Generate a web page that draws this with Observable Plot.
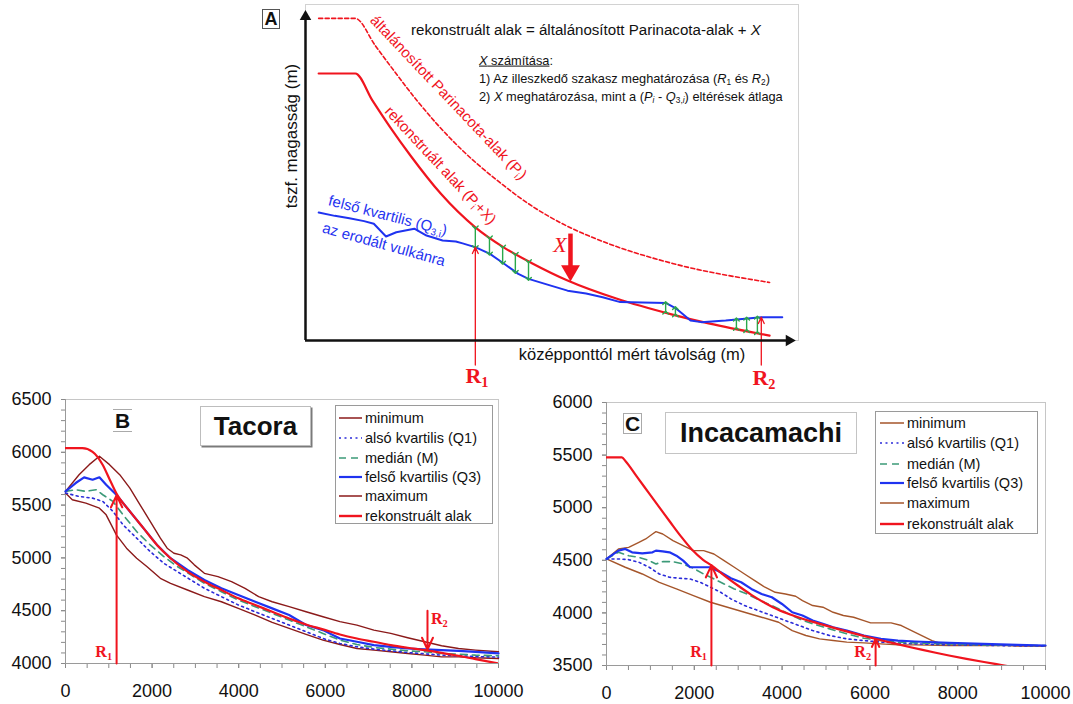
<!DOCTYPE html>
<html><head><meta charset="utf-8">
<script src="https://cdn.jsdelivr.net/npm/d3@7"></script>
<script src="https://cdn.jsdelivr.net/npm/@observablehq/plot@0.6"></script>
<style>
body{margin:0;background:#fff;}
#root{position:relative;width:1073px;height:704px;overflow:hidden;font-family:"Liberation Sans",Arial,sans-serif;color:#111;}
.abs{position:absolute;}
.lbl{position:absolute;white-space:nowrap;line-height:1;}
sub{font-size:65%;vertical-align:-0.3em;line-height:0;}
.legend{position:absolute;border:1px solid #9a9a9a;background:#fff;box-sizing:border-box;}
.row{position:absolute;display:flex;align-items:center;font-size:14.5px;line-height:1;white-space:nowrap;}
.row svg{margin-right:3px;}
.box{position:absolute;box-sizing:border-box;display:flex;align-items:center;justify-content:center;font-weight:bold;background:#fff;}
</style></head><body><div id="root"></div><script>
// ---------- Panel A: schematic (relative distance / elevation units, 0–100) ----------
const schemeGeneral = [[2.7,98.2],[10.2,98.2],[14.3,89.9],[18.4,81.7],[22.5,73.8],[27.0,65.9],[32.2,57.9],[39.3,48.8],[46.5,40.9],[53.7,34.8],[60.9,30.2],[75.2,23.5],[95.1,17.7]];
const schemeRecon = [[2.7,81.4],[10.2,81.4],[13.7,73.2],[17.4,64.9],[21.5,56.4],[27.7,44.8],[34.8,34.5],[40.6,28.4],[46.5,23.5],[53.7,18.3],[63.7,12.8],[75.2,7.9],[82.6,5.2],[95.1,1.5]];
const schemeQ3 = [[2.7,39.0],[6.0,38.0],[9.0,37.3],[12.0,36.4],[14.0,35.6],[16.5,31.7],[18.6,33.0],[22.3,34.1],[24.8,32.0],[28.1,30.5],[30.8,30.2],[32.2,29.6],[34.9,28.4],[37.8,26.4],[40.7,23.4],[43.6,20.3],[45.7,18.8],[50.1,16.8],[53.7,15.2],[57.5,14.3],[60.9,13.2],[64.5,11.7],[69.0,11.6],[73.9,11.4],[76.0,9.7],[78.9,6.1],[81.1,5.6],[86.1,6.1],[93.4,7.1],[97.7,7.1]];
const schemeGaps = [34.8,37.7,40.4,43.0,45.7,73.8,75.8,88.3,90.4,92.6];
const schemeR = [34.8,93.4];
const schemeX = 54.3;

// ---------- Panel B: Tacora (distance m, elevation m) ----------
const tacoraMin = [[0,5614],[157,5551],[470,5519],[783,5471],[939,5408],[1096,5282],[1174,5218],[1409,5092],[1643,4997],[1878,4918],[2191,4807],[2426,4759],[2817,4696],[3208,4633],[3600,4585],[3991,4522],[4382,4459],[4773,4389],[5165,4332],[5556,4275],[5947,4221],[6338,4180],[6730,4142],[7121,4127],[7512,4111],[7903,4095],[8295,4079],[8686,4063],[9077,4063],[9469,4054],[10000,4047]];
const tacoraQ1 = [[0,5614],[313,5582],[626,5566],[861,5535],[1096,5440],[1330,5313],[1643,5187],[1956,5060],[2270,4949],[2582,4870],[2895,4791],[3208,4712],[3600,4633],[3991,4554],[4382,4490],[4773,4427],[5165,4364],[5556,4301],[5947,4237],[6338,4190],[6730,4158],[7121,4136],[7512,4120],[7903,4104],[8295,4092],[8686,4079],[9077,4073],[9469,4066],[10000,4060]];
const tacoraMed = [[0,5630],[235,5646],[470,5630],[704,5646],[861,5598],[1096,5535],[1330,5408],[1643,5250],[1956,5123],[2270,5013],[2582,4918],[2895,4839],[3208,4759],[3600,4680],[3991,4601],[4382,4538],[4773,4475],[5165,4411],[5556,4348],[5947,4285],[6338,4221],[6730,4180],[7121,4152],[7512,4136],[7903,4120],[8295,4111],[8686,4095],[9077,4089],[9469,4079],[10000,4073]];
const tacoraQ3 = [[0,5630],[235,5709],[430,5763],[626,5740],[783,5763],[939,5693],[1174,5598],[1487,5440],[1800,5282],[2113,5123],[2426,4997],[2817,4886],[3208,4791],[3600,4712],[3991,4649],[4382,4585],[4773,4522],[5165,4459],[5556,4364],[5947,4316],[6338,4237],[6730,4206],[7121,4174],[7512,4158],[7903,4142],[8295,4133],[8686,4127],[9077,4120],[9469,4111],[10000,4095]];
const tacoraMax = [[0,5630],[313,5788],[548,5883],[783,5962],[1017,5883],[1252,5788],[1487,5661],[1722,5503],[1956,5345],[2191,5187],[2348,5092],[2504,5044],[2661,5028],[2817,4997],[2974,4934],[3208,4854],[3521,4823],[3834,4775],[4147,4712],[4460,4633],[4773,4585],[5165,4538],[5556,4490],[5947,4443],[6338,4396],[6730,4364],[7121,4316],[7512,4285],[7903,4244],[8295,4206],[8686,4168],[9077,4142],[9469,4127],[10000,4111]];
const tacoraRec = [[0,6040],[390,6040],[626,6005],[861,5880],[1017,5745],[1174,5612],[1487,5440],[1800,5282],[2113,5123],[2426,4997],[2817,4870],[3208,4775],[3600,4696],[3991,4617],[4382,4554],[4773,4490],[5165,4427],[5556,4370],[5947,4323],[6338,4275],[6730,4237],[7121,4206],[7512,4174],[7903,4149],[8295,4127],[8686,4101],[9077,4073],[9469,4041],[10000,4000]];
const tacoraR = [1180, 8360];

// ---------- Panel C: Incacamachi ----------
const incaMin = [[0,4513],[427,4434],[815,4370],[1203,4291],[1592,4228],[1980,4165],[2368,4101],[2756,4054],[3144,4006],[3533,3959],[3921,3911],[4231,3832],[4542,3785],[4852,3753],[5163,3737],[5474,3722],[5862,3715],[6250,3706],[6638,3696],[7026,3696],[7803,3690],[8579,3690],[9356,3690],[10000,3684]];
const incaQ1 = [[0,4513],[272,4513],[505,4506],[738,4481],[971,4434],[1203,4370],[1436,4339],[1669,4329],[1902,4323],[2135,4291],[2368,4244],[2601,4196],[2834,4133],[3144,4070],[3455,4022],[3766,3975],[4076,3927],[4387,3880],[4697,3832],[5085,3785],[5474,3753],[5862,3737],[6250,3722],[7026,3706],[7803,3696],[10000,3684]];
const incaMed = [[0,4513],[272,4576],[505,4544],[738,4528],[971,4497],[1126,4465],[1281,4487],[1514,4487],[1747,4465],[1980,4424],[2213,4370],[2446,4323],[2679,4275],[2911,4228],[3144,4190],[3455,4127],[3766,4070],[4076,4006],[4387,3943],[4697,3896],[5085,3848],[5474,3801],[5862,3759],[6250,3737],[6638,3722],[7026,3715],[7803,3706],[8579,3696],[10000,3690]];
const incaQ3 = [[0,4513],[272,4592],[427,4608],[582,4576],[815,4566],[1048,4576],[1126,4592],[1281,4585],[1436,4576],[1592,4544],[1747,4497],[1902,4434],[2057,4434],[2368,4434],[2601,4386],[2834,4329],[3067,4291],[3300,4228],[3533,4180],[3766,4149],[3998,4085],[4231,4006],[4464,3975],[4697,3927],[4930,3896],[5163,3864],[5474,3832],[5862,3785],[6250,3753],[6638,3737],[7026,3728],[7803,3715],[8579,3706],[9356,3696],[10000,3690]];
const incaMax = [[0,4513],[272,4608],[505,4623],[738,4671],[893,4703],[1048,4750],[1126,4772],[1281,4750],[1514,4687],[1747,4639],[1980,4592],[2213,4592],[2446,4560],[2679,4497],[2911,4434],[3144,4370],[3377,4307],[3610,4244],[3843,4196],[4076,4180],[4309,4158],[4464,4117],[4697,4070],[4930,4054],[5163,4006],[5396,3975],[5629,3959],[5862,3927],[6017,3905],[6250,3905],[6483,3905],[6716,3880],[6949,3832],[7182,3785],[7415,3737],[7648,3706],[7958,3706],[8269,3696],[8579,3696],[8967,3696],[9356,3684],[10000,3684]];
const incaRec = [[0,5478],[350,5478],[430,5445],[700,5290],[950,5148],[1200,5006],[1450,4864],[1700,4725],[1950,4600],[2200,4505],[2400,4449],[2700,4350],[3000,4258],[3300,4172],[3600,4097],[3900,4032],[4200,3982],[4500,3940],[4800,3903],[5100,3867],[5400,3832],[5700,3798],[6000,3766],[6300,3735],[6600,3705],[6900,3676],[7200,3648],[7500,3621],[7800,3595],[8200,3563],[8600,3533],[9000,3504],[9400,3475]];
const incaR = [2390, 6130];

const legendNames = ["minimum","alsó kvartilis (Q1)","medián (M)","felső kvartilis (Q3)","maximum","rekonstruált alak"];
const xTicks = [0,2000,4000,6000,8000,10000];

// ---------- helpers ----------
const root = document.getElementById("root");
const RED = "#f0141e", BLUE = "#1f33f0", GREEN = "#2aa84a";
const FONT = '"Liberation Sans", Arial, sans-serif';
const SERIF = '"Liberation Serif", "Times New Roman", serif';

function at(series, x) {
  let i = 0;
  while (i < series.length && series[i][0] < x) i++;
  if (i === 0) return series[0][1];
  if (i >= series.length) return series[series.length - 1][1];
  const [x0, y0] = series[i - 1], [x1, y1] = series[i];
  return y0 + (y1 - y0) * (x - x0) / (x1 - x0);
}
function place(node, left, top) {
  const d = document.createElement("div");
  d.className = "abs"; d.style.left = left + "px"; d.style.top = top + "px";
  d.appendChild(node); root.appendChild(d); return d;
}
function label(html, x, y, o = {}) {
  const d = document.createElement("div");
  d.className = "lbl"; d.innerHTML = html;
  d.style.left = x + "px"; d.style.top = y + "px";
  d.style.fontSize = (o.size || 15) + "px";
  d.style.color = o.color || "#111";
  d.style.fontFamily = o.family || FONT;
  if (o.weight) d.style.fontWeight = o.weight;
  if (o.italic) d.style.fontStyle = "italic";
  const tx = o.anchor === "middle" ? "-50%" : o.anchor === "end" ? "-100%" : "0";
  d.style.transform = `translate(${tx},-50%)` + (o.rotate ? ` rotate(${o.rotate}deg)` : "");
  root.appendChild(d); return d;
}
const XY = {x: d => d[0], y: d => d[1]};

// ---------- Panel A ----------
const A = {left: 240, top: 0};
const plotA = Plot.plot({
  width: 570, height: 390, marginLeft: 65, marginRight: 17, marginTop: 12, marginBottom: 50,
  x: {domain: [0, 100], axis: null}, y: {domain: [0, 100], axis: null},
  style: {background: "transparent", overflow: "visible"},
  marks: [
    Plot.frame({stroke: "#d2d2d2", insetTop: -8, insetRight: -5}),
    Plot.line(schemeGeneral, {...XY, stroke: RED, strokeWidth: 1.6, strokeDasharray: "4 2.5", curve: "monotone-x"}),
    Plot.line(schemeRecon, {...XY, stroke: RED, strokeWidth: 2.2, curve: "monotone-x"}),
    Plot.line(schemeQ3, {...XY, stroke: BLUE, strokeWidth: 2}),
    Plot.link(schemeGaps, {x1: d => d, x2: d => d, y1: d => at(schemeRecon, d), y2: d => at(schemeQ3, d), stroke: GREEN, strokeWidth: 1.4, markerStart: "arrow", markerEnd: "arrow"}),
    Plot.arrow(schemeR, {x1: d => d, x2: d => d, y1: -7.5, y2: d => at(schemeQ3, d), stroke: RED, strokeWidth: 1.3, headLength: 8, headAngle: 50}),
    Plot.link([schemeX], {x1: d => d, x2: d => d, y1: 32.6, y2: 22.5, stroke: RED, strokeWidth: 4.5}),
    Plot.dot([schemeX], {x: d => d, y: 21.3, symbol: "triangle", r: 7, fill: RED, stroke: "none", rotate: 180}),
    Plot.ruleX([0], {y1: 0, y2: 98, strokeWidth: 2.5, stroke: "#111"}),
    Plot.ruleY([0], {x1: 0, x2: 99, strokeWidth: 2.5, stroke: "#111"}),
    Plot.dot([0], {x: 0, y: 98.7, symbol: "triangle", r: 4.3, fill: "#111", stroke: "none"}),
    Plot.dot([0], {x: 99.1, y: 0, symbol: "triangle", r: 4.3, fill: "#111", stroke: "none", rotate: 90})
  ]
});
place(plotA, A.left, A.top);

// Panel A texts
const boxA = document.createElement("div");
boxA.className = "box"; boxA.textContent = "A";
Object.assign(boxA.style, {left: "262px", top: "9px", width: "18px", height: "20px", border: "1px solid #555", fontSize: "18px"});
root.appendChild(boxA);
label("rekonstruált alak = általánosított Parinacota-alak + <i>X</i>", 411, 30, {size: 15.1});
label("<u><i>X</i> számítása</u>:", 479, 61, {size: 12.8});
label("1) Az illeszkedő szakasz meghatározása (<i>R</i><sub>1</sub> és <i>R</i><sub>2</sub>)", 479, 79, {size: 12.8});
label("2) <i>X</i> meghatározása, mint a (<i>P</i><sub><i>i</i></sub> - <i>Q</i><sub>3,<i>i</i></sub>) eltérések átlaga", 479, 97, {size: 12.8});
label("tszf. magasság (m)", 291, 136, {size: 17, anchor: "middle", rotate: -90});
label("középponttól mért távolság (m)", 632, 354, {size: 16.5, anchor: "middle"});
label("általánosított Parinacota-alak (P<sub>i</sub>)", 449, 97, {size: 15, color: RED, anchor: "middle", rotate: 46.5});
label("rekonstruált alak (P<sub>i</sub>+X)", 441, 165, {size: 15, color: RED, anchor: "middle", rotate: 47});
label("felső kvartilis (Q<sub>3,i</sub>)", 388, 215, {size: 15, color: BLUE, anchor: "middle", rotate: 14.5});
label("az erodált vulkánra", 384, 244, {size: 15, color: BLUE, anchor: "middle", rotate: 15.5});
label("X", 560, 245, {size: 22, color: RED, family: SERIF, italic: true, anchor: "middle"});
label("R<sub>1</sub>", 477, 376, {size: 22, color: RED, family: SERIF, weight: "bold", anchor: "middle"});
label("R<sub>2</sub>", 764, 378, {size: 22, color: RED, family: SERIF, weight: "bold", anchor: "middle"});

// ---------- Panels B, C ----------
function profilePanel(o) {
  const s = o.series;
  return Plot.plot({
    width: o.w, height: o.h, marginLeft: o.ml, marginRight: o.mr, marginTop: o.mt, marginBottom: o.mb,
    x: {domain: [0, 10000], label: null}, y: {domain: o.yDomain, label: null},
    style: {background: "transparent", overflow: "visible", fontFamily: FONT, fontSize: "18px", color: "#111"},
    marks: [
      Plot.frame({stroke: "#c6c6c6"}),
      Plot.axisY({ticks: d3.range(o.yDomain[0], o.yDomain[1] + 1, 100), tickSize: 4, tickFormat: () => "", stroke: "#8a8a8a", label: null}),
      Plot.axisY({ticks: d3.range(o.yDomain[0], o.yDomain[1] + 1, 500), tickSize: 4, tickPadding: 10, tickFormat: "d", stroke: "#8a8a8a", fill: "#111", fontSize: 18, label: null}),
      Plot.axisX({ticks: d3.range(0, 10001, 500), tickSize: 5, tickFormat: () => "", stroke: "#8a8a8a", label: null}),
      Plot.axisX({ticks: xTicks, tickSize: 5, tickPadding: 16, tickFormat: "d", stroke: "#8a8a8a", fill: "#111", fontSize: 18, label: null}),
      Plot.ruleX([0], {stroke: "#9a9a9a"}),
      Plot.ruleY([o.yDomain[0]], {stroke: "#9a9a9a"}),
      Plot.line(s.min, {...XY, stroke: o.env, strokeWidth: 1.4}),
      Plot.line(s.max, {...XY, stroke: o.env, strokeWidth: 1.4}),
      Plot.line(s.q1, {...XY, stroke: "#2b2bd9", strokeWidth: 1.6, strokeDasharray: "2 3.5"}),
      Plot.line(s.med, {...XY, stroke: "#3c9a78", strokeWidth: 1.6, strokeDasharray: "7 5"}),
      Plot.line(s.q3, {...XY, stroke: BLUE, strokeWidth: 2.2}),
      Plot.line(s.rec, {...XY, stroke: RED, strokeWidth: 2.2, curve: "monotone-x", clip: true}),
      Plot.arrow(o.arrows, {x1: "x", x2: "x", y1: "from", y2: "to", stroke: RED, strokeWidth: 2, headLength: 10, headAngle: 50})
    ]
  });
}

function legend(left, top, w, h, env, rows) {
  const d = document.createElement("div");
  d.className = "legend";
  Object.assign(d.style, {left: left + "px", top: top + "px", width: w + "px", height: h + "px"});
  const styles = [
    {c: env, w: 1.5, dash: ""}, {c: "#2b2bd9", w: 1.6, dash: "2 3.5"}, {c: "#3c9a78", w: 1.6, dash: "7 5"},
    {c: BLUE, w: 2.2, dash: ""}, {c: env, w: 1.5, dash: ""}, {c: RED, w: 2.4, dash: ""}
  ];
  legendNames.forEach((name, i) => {
    const r = document.createElement("div");
    r.className = "row";
    r.style.left = rows.x + "px"; r.style.top = (rows.y[i] - 8) + "px"; r.style.height = "16px";
    const st = styles[i];
    r.innerHTML = `<svg width="${rows.len}" height="6"><line x1="0" y1="3" x2="${rows.len}" y2="3" stroke="${st.c}" stroke-width="${st.w}" stroke-dasharray="${st.dash}"/></svg><span>${name}</span>`;
    d.appendChild(r);
  });
  root.appendChild(d);
}
function titleBox(text, left, top, w, h, size, extra = {}) {
  const b = document.createElement("div");
  b.className = "box"; b.textContent = text;
  Object.assign(b.style, {left: left + "px", top: top + "px", width: w + "px", height: h + "px", fontSize: size + "px", border: "1px solid #bdbdbd"}, extra);
  root.appendChild(b); return b;
}

// Panel B
const B = {left: 0, top: 380};
const plotB = profilePanel({
  w: 540, h: 324, ml: 65, mr: 42, mt: 19, mb: 41, yDomain: [4000, 6500], env: "#8b1a1a",
  series: {min: tacoraMin, max: tacoraMax, q1: tacoraQ1, med: tacoraMed, q3: tacoraQ3, rec: tacoraRec},
  arrows: [{x: tacoraR[0], from: 4000, to: at(tacoraRec, tacoraR[0]) - 15}, {x: tacoraR[1], from: 4500, to: at(tacoraRec, tacoraR[1]) + 10}]
});
place(plotB, B.left, B.top);

// Panel C
const C = {left: 540, top: 380};
const plotC = profilePanel({
  w: 533, h: 324, ml: 66, mr: 28, mt: 22, mb: 39, yDomain: [3500, 6000], env: "#a5552a",
  series: {min: incaMin, max: incaMax, q1: incaQ1, med: incaMed, q3: incaQ3, rec: incaRec},
  arrows: [{x: incaR[0], from: 3500, to: at(incaRec, incaR[0])}, {x: incaR[1], from: 3500, to: at(incaRec, incaR[1])}]
});
place(plotC, C.left, C.top);

// boxes and legends
titleBox("B", 113, 409, 19, 23, 21, {border: "none", borderTop: "1px solid #aaa", borderBottom: "1px solid #aaa", background: "transparent"});
titleBox("Tacora", 200, 406, 111, 40, 26, {boxShadow: "1.5px 1.5px 0 #7a7a7a"});
titleBox("C", 623, 413, 19, 21, 21, {border: "1px solid #aaa"});
titleBox("Incacamachi", 665, 412, 192, 42, 27, {border: "1px solid #c4c4c4"});
legend(335, 405, 158, 119, "#8b1a1a", {x: 3, len: 23, y: [12, 32, 52, 71, 90, 110]});
legend(875, 411, 163, 123, "#a5552a", {x: 4, len: 24, y: [11, 31, 52, 71, 91, 112]});

// R labels placed through the panels' scales
function rLabel(plot, P, xv, yv, dx, anchor) {
  const px = plot.scale("x").apply(xv) + P.left + dx;
  const py = plot.scale("y").apply(yv) + P.top;
  label(`R<sub>${anchor.n}</sub>`, px, py, {size: 16, color: RED, family: SERIF, weight: "bold", anchor: anchor.a});
}
rLabel(plotB, B, tacoraR[0], 4105, -4, {n: 1, a: "end"});
rLabel(plotB, B, tacoraR[1], 4420, 4, {n: 2, a: "start"});
rLabel(plotC, C, incaR[0], 3627, -4, {n: 1, a: "end"});
rLabel(plotC, C, incaR[1], 3627, -4, {n: 2, a: "end"});
</script></body></html>
